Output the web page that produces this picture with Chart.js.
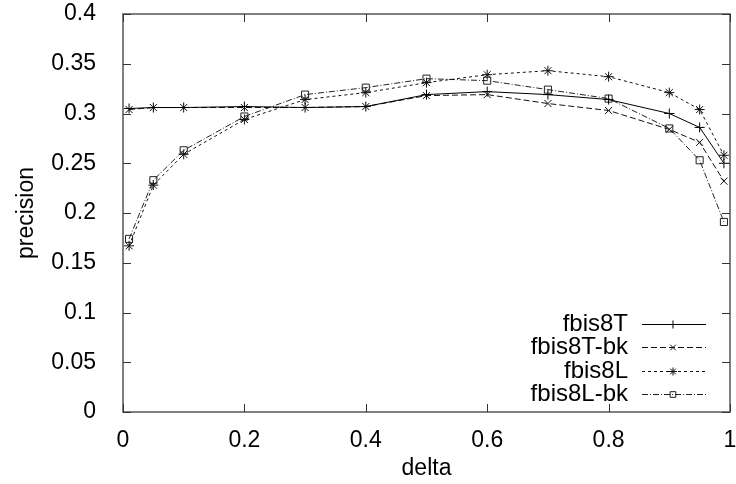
<!DOCTYPE html>
<html>
<head>
<meta charset="utf-8">
<script src="https://cdn.jsdelivr.net/npm/chart.js@4/dist/chart.umd.min.js"></script>
<style>
  html, body { margin: 0; padding: 0; background: #ffffff; }
  #wrap { width: 736px; height: 484px; }
</style>
</head>
<body>
<div id="wrap"><canvas id="c" width="736" height="484"></canvas></div>
<script>
const delta = [0.01, 0.05, 0.1, 0.2, 0.3, 0.4, 0.5, 0.6, 0.7, 0.8, 0.9, 0.95, 0.99];
const fbis8T   = [0.305, 0.306, 0.306, 0.307, 0.306, 0.307, 0.319, 0.322, 0.319, 0.314, 0.300, 0.286, 0.250];
const fbis8Tbk = [0.304, 0.306, 0.306, 0.306, 0.306, 0.307, 0.318, 0.319, 0.310, 0.303, 0.284, 0.271, 0.232];
const fbis8L   = [0.167, 0.228, 0.259, 0.294, 0.314, 0.321, 0.331, 0.339, 0.343, 0.337, 0.321, 0.304, 0.258];
const fbis8Lbk = [0.174, 0.233, 0.263, 0.297, 0.319, 0.326, 0.335, 0.333, 0.324, 0.315, 0.285, 0.253, 0.191];
const seriesNames = ['fbis8T', 'fbis8T-bk', 'fbis8L', 'fbis8L-bk'];
const xTicks = [0, 0.2, 0.4, 0.6, 0.8, 1];
const xTickLabels = ['0', '0.2', '0.4', '0.6', '0.8', '1'];
const yTicks = [0, 0.05, 0.1, 0.15, 0.2, 0.25, 0.3, 0.35, 0.4];
const yTickLabels = ['0', '0.05', '0.1', '0.15', '0.2', '0.25', '0.3', '0.35', '0.4'];

const FONT = "'Liberation Sans', Arial, sans-serif";
const pts = arr => delta.map((d, i) => ({x: d, y: arr[i]}));

const styles = [
  {data: fbis8T,   dash: [],            pointStyle: 'cross',    color: '#000000'},
  {data: fbis8Tbk, dash: [6, 3],        pointStyle: 'crossRot', color: '#111111'},
  {data: fbis8L,   dash: [3, 3],        pointStyle: 'star',     color: '#111111'},
  {data: fbis8Lbk, dash: [6, 2, 1, 2],  pointStyle: 'rect',     color: '#222222'}
];

const datasets = styles.map((s, i) => ({
  label: seriesNames[i],
  data: pts(s.data),
  borderColor: s.color,
  borderWidth: 1,
  borderDash: s.dash,
  pointStyle: s.pointStyle,
  pointRadius: 5,
  pointBorderWidth: 1,
  pointBorderColor: s.color,
  pointBackgroundColor: 'rgba(0,0,0,0)',
  fill: false,
  tension: 0,
  clip: false
}));

const framePlugin = {
  id: 'frame',
  afterDraw(chart) {
    const {ctx, chartArea: a, scales} = chart;
    ctx.save();
    ctx.strokeStyle = '#555555';
    ctx.lineWidth = 1.5;
    ctx.setLineDash([]);
    ctx.strokeRect(a.left, a.top, a.right - a.left, a.bottom - a.top);
    ctx.lineWidth = 1;
    ctx.strokeStyle = '#333333';
    const tl = 8;
    ctx.beginPath();
    xTicks.forEach(v => {
      const px = Math.round(scales.x.getPixelForValue(v)) + 0.5;
      ctx.moveTo(px, a.bottom); ctx.lineTo(px, a.bottom - tl);
      ctx.moveTo(px, a.top); ctx.lineTo(px, a.top + tl);
    });
    yTicks.forEach(v => {
      const py = Math.round(scales.y.getPixelForValue(v)) + 0.5;
      ctx.moveTo(a.left, py); ctx.lineTo(a.left + tl, py);
      ctx.moveTo(a.right, py); ctx.lineTo(a.right - tl, py);
    });
    ctx.stroke();
    const textRight = 628, x0 = 642, x1 = 706, mx = 673;
    const rowY = [324, 347, 371, 394];
    ctx.font = '24px ' + FONT;
    ctx.textAlign = 'right';
    ctx.textBaseline = 'middle';
    chart.data.datasets.forEach((ds, i) => {
      const y = rowY[i];
      ctx.fillStyle = '#000000';
      ctx.fillText(ds.label, textRight, y);
      ctx.strokeStyle = ds.borderColor;
      ctx.lineWidth = 1;
      ctx.setLineDash(ds.borderDash);
      ctx.beginPath();
      ctx.moveTo(x0, y + 0.5); ctx.lineTo(x1, y + 0.5);
      ctx.stroke();
      ctx.setLineDash([]);
      ctx.strokeStyle = ds.pointBorderColor;
      ctx.fillStyle = 'rgba(0,0,0,0)';
      Chart.helpers.drawPoint(ctx, {pointStyle: ds.pointStyle, radius: 4, rotation: 0, borderWidth: 1}, mx, y + 0.5);
    });
    ctx.restore();
  }
};

new Chart(document.getElementById('c'), {
  type: 'line',
  data: {datasets},
  options: {
    responsive: false,
    animation: false,
    layout: {padding: {top: 14, right: 3, bottom: 0, left: 0}},
    plugins: {legend: {display: false}, tooltip: {enabled: false}},
    scales: {
      x: {
        type: 'linear', min: 0, max: 1,
        grid: {display: false}, border: {display: false},
        afterBuildTicks: s => { s.ticks = xTicks.map(v => ({value: v})); },
        afterFit: s => { s.height = 72; s.paddingLeft = 0; s.paddingRight = 0; },
        ticks: {
          padding: 7, maxRotation: 0, autoSkip: false,
          color: '#000000', font: {family: FONT, size: 23},
          callback: (v) => xTickLabels[xTicks.indexOf(v)]
        },
        title: {display: true, text: 'delta', color: '#000000',
                font: {family: FONT, size: 23}, padding: {top: 0, bottom: 2}}
      },
      y: {
        type: 'linear', min: 0, max: 0.4,
        grid: {display: false}, border: {display: false},
        afterBuildTicks: s => { s.ticks = yTicks.map(v => ({value: v})); },
        afterFit: s => { s.width = 123; s.paddingTop = 0; s.paddingBottom = 0; },
        ticks: {
          padding: 19, autoSkip: false,
          color: '#000000', font: {family: FONT, size: 23},
          callback: (v) => yTickLabels[yTicks.indexOf(v)]
        },
        title: {display: true, text: 'precision', color: '#000000',
                font: {family: FONT, size: 23}, padding: {top: 13, bottom: 0}}
      }
    }
  },
  plugins: [framePlugin]
});
</script>
</body>
</html>
